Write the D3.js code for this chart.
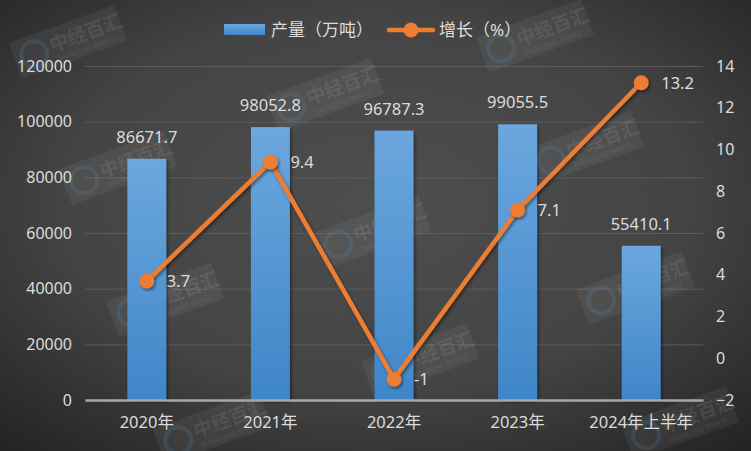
<!DOCTYPE html>
<html>
<head>
<meta charset="utf-8">
<script src="https://cdn.jsdelivr.net/npm/d3@7"></script>
<style>
  html, body { margin: 0; padding: 0; background: #3a3a3a; }
  svg { display: block; }
  text { font-family: "Noto Sans", "Noto Sans CJK SC", sans-serif; }
</style>
</head>
<body>
<svg id="chart" width="751" height="451"></svg>
<script>
// Output and year-on-year growth
const categories = ["2020年", "2021年", "2022年", "2023年", "2024年上半年"];
const output = [86671.7, 98052.8, 96787.3, 99055.5, 55410.1];
const growth = [3.7, 9.4, -1, 7.1, 13.2];
const leftTicks = [0, 20000, 40000, 60000, 80000, 100000, 120000];
const rightTicks = [-2, 0, 2, 4, 6, 8, 10, 12, 14];
const legendNames = ["产量（万吨）", "增长（%）"];

// Brand stamp placements (centres)
const stampSpots = [[68, 42], [118, 168], [165, 300], [212, 428], [325, 95],
  [372, 232], [420, 360], [535, 36], [585, 148], [635, 288], [680, 423]];

const W = 751, H = 451;
const margin = { top: 66, right: 48, bottom: 51, left: 85 };
const svg = d3.select("#chart");
const defs = svg.append("defs");

const bg = defs.append("radialGradient").attr("id", "bg")
  .attr("cx", "50%").attr("cy", "45%").attr("r", "75%");
bg.append("stop").attr("offset", "0%").attr("stop-color", "#4e4e4e");
bg.append("stop").attr("offset", "55%").attr("stop-color", "#444444");
bg.append("stop").attr("offset", "100%").attr("stop-color", "#222222");

const barGrad = defs.append("linearGradient").attr("id", "barGrad")
  .attr("x1", 0).attr("y1", 0).attr("x2", 0).attr("y2", 1);
barGrad.append("stop").attr("offset", "0%").attr("stop-color", "#6ca7de");
barGrad.append("stop").attr("offset", "100%").attr("stop-color", "#3f86c8");

const shadow = defs.append("filter").attr("id", "shadow")
  .attr("x", "-20%").attr("y", "-20%").attr("width", "140%").attr("height", "140%");
shadow.append("feDropShadow").attr("dx", 1.5).attr("dy", 2).attr("stdDeviation", 1.5)
  .attr("flood-color", "#000").attr("flood-opacity", 0.45);

svg.append("rect").attr("width", W).attr("height", H).attr("fill", "url(#bg)");

const x = d3.scaleBand().domain(categories)
  .range([margin.left, W - margin.right]).paddingInner(0.685).paddingOuter(0.3425);
const yL = d3.scaleLinear().domain([0, 120000]).range([H - margin.bottom, margin.top]);
const yR = d3.scaleLinear().domain([-2, 14]).range([H - margin.bottom, margin.top]);
const cx = c => x(c) + x.bandwidth() / 2;

// Gridlines
svg.append("g").attr("transform", `translate(${margin.left},0)`)
  .call(d3.axisLeft(yL).tickValues(leftTicks.slice(1))
    .tickSize(-(W - margin.left - margin.right)).tickFormat(""))
  .call(g => g.select(".domain").remove())
  .call(g => g.selectAll("line").attr("stroke", "#5c5c5c").attr("stroke-width", 1));

// Brand stamps (behind the marks)
const stamps = svg.append("g").attr("pointer-events", "none").selectAll("g").data(stampSpots).join("g")
  .attr("transform", d => `translate(${d[0]},${d[1]}) rotate(-20)`);
stamps.append("rect").attr("x", -56).attr("y", -19).attr("width", 112).attr("height", 38)
  .attr("fill", "#ffffff").attr("opacity", 0.055);
stamps.append("circle").attr("cx", -36).attr("cy", 0).attr("r", 13)
  .attr("fill", "none").attr("stroke", "#5b9bd5").attr("stroke-width", 4).attr("opacity", 0.16);
stamps.append("text").attr("x", -18).attr("y", 4).attr("font-size", 19)
  .attr("font-family", "'Noto Sans CJK SC', sans-serif").attr("font-weight", "bold")
  .attr("fill", "#ffffff").attr("opacity", 0.08).text("中经百汇");
stamps.append("text").attr("x", -16).attr("y", 15).attr("font-size", 6.5)
  .attr("font-family", "'Liberation Serif', serif")
  .attr("fill", "#ffffff").attr("opacity", 0.08).text("ZHONGJING BAIHUI");

// Left axis labels
svg.append("g").attr("transform", `translate(${margin.left},0)`)
  .call(d3.axisLeft(yL).tickValues(leftTicks).tickSize(0).tickPadding(13).tickFormat(d3.format("d")))
  .call(g => g.select(".domain").remove())
  .call(g => g.selectAll("text").attr("fill", "#dcdcdc").attr("font-size", 16)
    .attr("font-family", "'Noto Sans', sans-serif"));

// Right axis labels
svg.append("g").attr("transform", `translate(${W - margin.right},0)`)
  .call(d3.axisRight(yR).tickValues(rightTicks).tickSize(0).tickPadding(13).tickFormat(d3.format("d")))
  .call(g => g.select(".domain").remove())
  .call(g => g.selectAll("text").attr("fill", "#dcdcdc").attr("font-size", 16)
    .attr("font-family", "'Noto Sans', sans-serif"));

// Bars
svg.append("g").selectAll("rect").data(output).join("rect")
  .attr("x", (d, i) => x(categories[i]))
  .attr("y", d => yL(d))
  .attr("width", x.bandwidth())
  .attr("height", d => yL(0) - yL(d))
  .attr("fill", "url(#barGrad)")
  .attr("filter", "url(#shadow)");

// Baseline and category labels
svg.append("g").attr("transform", `translate(0,${yL(0)})`)
  .call(d3.axisBottom(x).tickSize(0).tickPadding(16))
  .call(g => g.select(".domain").attr("stroke", "#a8a8a8").attr("stroke-width", 2.5))
  .call(g => g.selectAll("text").attr("fill", "#dcdcdc").attr("font-size", 16.5)
    .attr("font-family", "'Noto Sans CJK SC', 'Noto Sans', sans-serif"));

// Bar value labels
svg.append("g").selectAll("text").data(output).join("text")
  .attr("x", (d, i) => cx(categories[i]))
  .attr("y", d => yL(d) - 16)
  .attr("text-anchor", "middle")
  .attr("fill", "#dcdcdc").attr("font-size", 16.5)
  .text(d => d3.format(".1f")(d));

// Growth line
const line = d3.line().x((d, i) => cx(categories[i])).y(d => yR(d));
svg.append("path").datum(growth)
  .attr("d", line).attr("fill", "none")
  .attr("stroke", "#ed7d31").attr("stroke-width", 4.5)
  .attr("stroke-linejoin", "round").attr("stroke-linecap", "round")
  .attr("filter", "url(#shadow)");
svg.append("g").selectAll("circle").data(growth).join("circle")
  .attr("cx", (d, i) => cx(categories[i]))
  .attr("cy", d => yR(d))
  .attr("r", 7.5)
  .attr("fill", "#ed7d31")
  .attr("filter", "url(#shadow)");
svg.append("g").selectAll("text").data(growth).join("text")
  .attr("x", (d, i) => cx(categories[i]) + 20)
  .attr("y", d => yR(d) + 6)
  .attr("fill", "#dcdcdc").attr("font-size", 16.5)
  .text(d => d);

// Legend
const lg = svg.append("g");
lg.append("rect").attr("x", 224).attr("y", 24).attr("width", 41).attr("height", 11)
  .attr("fill", "url(#barGrad)");
lg.append("text").attr("x", 271).attr("y", 36).attr("fill", "#dcdcdc").attr("font-size", 17)
  .attr("font-family", "'Noto Sans CJK SC', sans-serif").text(legendNames[0]);
lg.append("line").attr("x1", 389).attr("x2", 433).attr("y1", 30).attr("y2", 30)
  .attr("stroke", "#ed7d31").attr("stroke-width", 4.5).attr("stroke-linecap", "round");
lg.append("circle").attr("cx", 411).attr("cy", 30).attr("r", 7.5).attr("fill", "#ed7d31");
lg.append("text").attr("x", 439).attr("y", 36).attr("fill", "#dcdcdc").attr("font-size", 17)
  .attr("font-family", "'Noto Sans CJK SC', sans-serif").text(legendNames[1]);
</script>
</body>
</html>
